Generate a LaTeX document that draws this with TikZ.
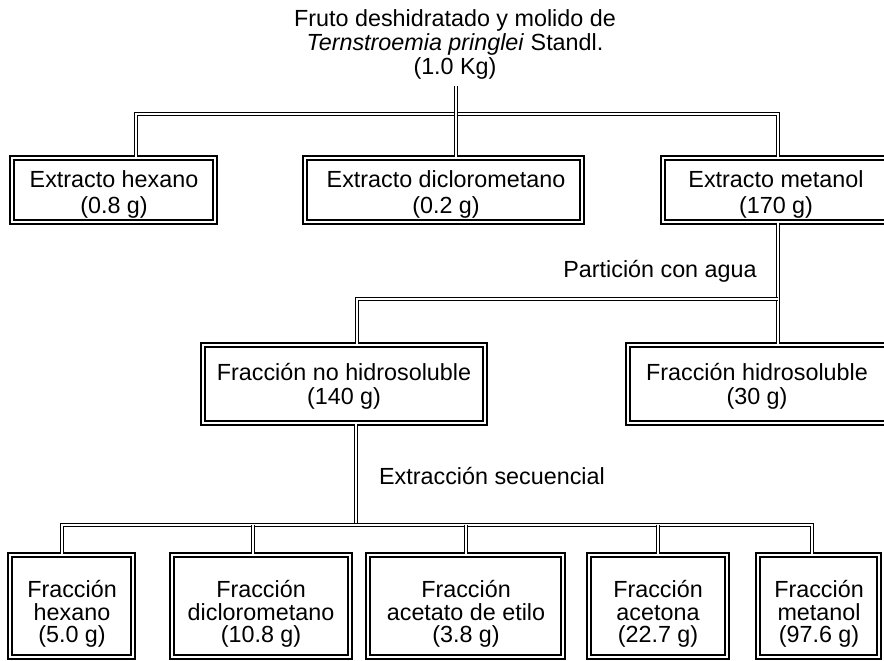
\documentclass[tikz,border=0pt]{standalone}
\usepackage{fontspec}
\setmainfont{Liberation Sans}
\usetikzlibrary{fit}
\begin{document}
\begin{tikzpicture}[x=0.75pt,y=-0.75pt,
  box/.style={draw, double, line width=1pt, double distance=1.8pt, inner sep=0pt, align=center},
  conn/.style={draw, double, line width=0.9pt, double distance=1.5pt},
  lbl/.style={font=\fontsize{17.5}{18}\selectfont, inner sep=0pt, align=center},
  lbltop/.style={lbl, font=\fontsize{17.5}{19.5}\selectfont},
  lblbot/.style={lbl, font=\fontsize{17.5}{17}\selectfont}]
\useasboundingbox (0,0) rectangle (884,660);
% title
\node[align=center, inner sep=0pt, font=\fontsize{17.5}{18}\selectfont] (title) at (455,44)
  {Fruto deshidratado y molido de\\\textit{Ternstroemia pringlei} Standl.\\(1.0 Kg)};
% extracts
\node[box, fit={(12,158) (215,222)}] (b1) {};
\node[lbltop] at (114,194) {Extracto hexano\\(0.8 g)};
\node[box, fit={(305,158) (582,222)}] (b2) {};
\node[lbltop] at (446,194) {Extracto diclorometano\\(0.2 g)};
\node[box, fit={(663,158) (890,222)}] (b3) {};
\node[lbltop] at (776,194) {Extracto metanol\\(170 g)};
% partition
\node[box, fit={(203,345) (485,423)}] (b4) {};
\node[lbl] at (344,386) {Fracción no hidrosoluble\\(140 g)};
\node[box, fit={(628,345) (887,423)}] (b5) {};
\node[lbl] at (757,386) {Fracción hidrosoluble\\(30 g)};
% fractions
\node[box, fit={(10,555) (133,657)}] (fA) {};
\node[lblbot] at (72,614) {Fracción\\hexano\\(5.0 g)};
\node[box, fit={(172,555) (350,657)}] (fB) {};
\node[lblbot] at (261,614) {Fracción\\diclorometano\\(10.8 g)};
\node[box, fit={(368,555) (563,657)}] (fC) {};
\node[lblbot] at (466,614) {Fracción\\acetato de etilo\\(3.8 g)};
\node[box, fit={(589,555) (727,657)}] (fD) {};
\node[lblbot] at (658,614) {Fracción\\acetona\\(22.7 g)};
\node[box, fit={(758,555) (879,657)}] (fE) {};
\node[lblbot] at (819,614) {Fracción\\metanol\\(97.6 g)};
% labels
\node[lbl] (lp) at (660,271) {Partición con agua};
\node[lbl] (le) at (492,476) {Extracción secuencial};
% junction coordinates
\coordinate (t0) at (456,86);
\coordinate (hL) at (136,114);
\coordinate (hR) at (778,114);
\coordinate (p1) at (778,299);
\coordinate (p0) at (357,299);
\coordinate (q0) at (356,525);
\coordinate (qL) at (62,525);
\coordinate (qB) at (253,525);
\coordinate (qC) at (466,525);
\coordinate (qD) at (658,525);
\coordinate (qR) at (812,525);
% connectors
\draw[conn] (b1.north -| hL) -- (hL) -- (hR) -- (b3.north -| hR);
\draw[conn] (t0) -- (b2.north -| t0);
\draw[conn] (b3.south -| p1) -- (b5.north -| p1);
\draw[conn] (p1) -- (p0) -- (b4.north -| p0);
\draw[conn] (b4.south -| q0) -- (q0);
\draw[conn] (fA.north -| qL) -- (qL) -- (qR) -- (fE.north -| qR);
\draw[conn] (qB) -- (fB.north -| qB);
\draw[conn] (qC) -- (fC.north -| qC);
\draw[conn] (qD) -- (fD.north -| qD);
\end{tikzpicture}
\end{document}
